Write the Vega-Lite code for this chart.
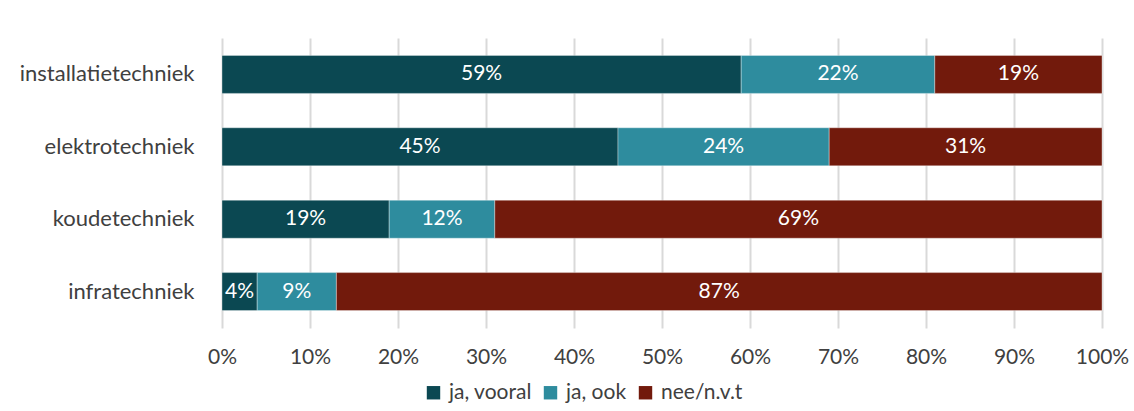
{
  "$schema": "https://vega.github.io/schema/vega-lite/v6.json",
  "width": 880,
  "height": 290,
  "autosize": {"type": "none"},
  "padding": {"left": 222, "top": 38, "right": 32, "bottom": 83},
  "background": "white",
  "config": {
    "view": {"stroke": null},
    "font": "Lato",
    "axis": {"labelColor": "#404040", "labelFont": "Lato", "labelFontSize": 21}
  },
  "data": {
    "values": [
      {"cat": "installatietechniek", "resp": "ja, vooral", "o": 1, "v": 59},
      {"cat": "installatietechniek", "resp": "ja, ook", "o": 2, "v": 22},
      {"cat": "installatietechniek", "resp": "nee/n.v.t", "o": 3, "v": 19},
      {"cat": "elektrotechniek", "resp": "ja, vooral", "o": 1, "v": 45},
      {"cat": "elektrotechniek", "resp": "ja, ook", "o": 2, "v": 24},
      {"cat": "elektrotechniek", "resp": "nee/n.v.t", "o": 3, "v": 31},
      {"cat": "koudetechniek", "resp": "ja, vooral", "o": 1, "v": 19},
      {"cat": "koudetechniek", "resp": "ja, ook", "o": 2, "v": 12},
      {"cat": "koudetechniek", "resp": "nee/n.v.t", "o": 3, "v": 69},
      {"cat": "infratechniek", "resp": "ja, vooral", "o": 1, "v": 4},
      {"cat": "infratechniek", "resp": "ja, ook", "o": 2, "v": 9},
      {"cat": "infratechniek", "resp": "nee/n.v.t", "o": 3, "v": 87}
    ]
  },
  "encoding": {
    "y": {
      "field": "cat", "type": "nominal", "sort": null, "title": null,
      "scale": {"paddingInner": 0.475, "paddingOuter": 0.24},
      "axis": {"domain": false, "ticks": false, "labelPadding": 28, "labelFontSize": 22}
    },
    "x": {
      "field": "v", "type": "quantitative", "stack": "zero", "title": null,
      "scale": {"domain": [0, 100]},
      "axis": {
        "values": [0, 10, 20, 30, 40, 50, 60, 70, 80, 90, 100],
        "labelExpr": "datum.value + '%'",
        "labelFlush": false, "labelOverlap": false,
        "domain": false, "ticks": false, "labelPadding": 18,
        "grid": true, "gridColor": "#d9d9d9", "gridWidth": 2
      }
    },
    "order": {"field": "o", "type": "quantitative"}
  },
  "layer": [
    {
      "mark": {"type": "bar", "stroke": "white", "strokeOpacity": 0.35, "strokeWidth": 1},
      "encoding": {
        "color": {
          "field": "resp", "type": "nominal", "title": null,
          "sort": ["ja, vooral", "ja, ook", "nee/n.v.t"],
          "scale": {"domain": ["ja, vooral", "ja, ook", "nee/n.v.t"], "range": ["#0b4852", "#2e8c9e", "#721a0c"]},
          "legend": {
            "orient": "none", "direction": "horizontal", "legendX": 201, "legendY": 344,
            "symbolType": "square", "symbolSize": 180, "symbolStrokeWidth": 0,
            "labelFontSize": 21, "labelColor": "#404040", "labelFont": "Lato",
            "columnPadding": 8, "symbolOffset": 0, "labelOffset": 5
          }
        }
      }
    },
    {
      "mark": {"type": "text", "color": "white", "fontSize": 21, "font": "Lato", "text": {"expr": "datum.v + '%'"}},
      "encoding": {
        "x": {"field": "v", "type": "quantitative", "stack": "zero", "bandPosition": 0.5}
      }
    }
  ]
}
